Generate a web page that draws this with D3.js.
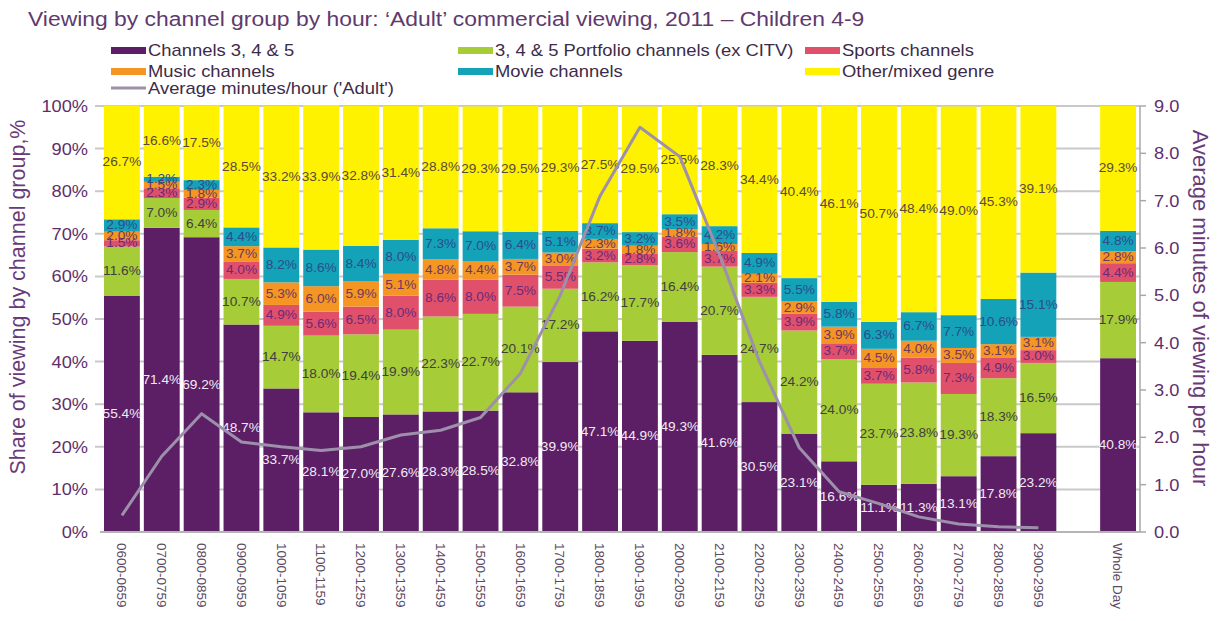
<!DOCTYPE html>
<html>
<head>
<meta charset="utf-8">
<script src="https://cdn.jsdelivr.net/npm/d3@7"></script>
<style>
  body { margin: 0; background: #fff; }
  svg { display: block; font-family: "Liberation Sans", Arial, sans-serif; }
</style>
</head>
<body>
<svg id="chart" width="1220" height="621"></svg>
<script>
// hours shown on the x axis, plus a whole-day bar after a gap
const hours = ["0600-0659","0700-0759","0800-0859","0900-0959","1000-1059","1100-1159",
  "1200-1259","1300-1359","1400-1459","1500-1559","1600-1659","1700-1759","1800-1859",
  "1900-1959","2000-2059","2100-2159","2200-2259","2300-2359","2400-2459","2500-2559",
  "2600-2659","2700-2759","2800-2859","2900-2959"];
const categories = hours.concat(["Whole Day"]);

const channels345 = [55.4,71.4,69.2,48.7,33.7,28.1,27.0,27.6,28.3,28.5,32.8,39.9,47.1,44.9,49.3,41.6,30.5,23.1,16.6,11.1,11.3,13.1,17.8,23.2,40.8];
const portfolio   = [11.6,7.0,6.4,10.7,14.7,18.0,19.4,19.9,22.3,22.7,20.1,17.2,16.2,17.7,16.4,20.7,24.7,24.2,24.0,23.7,23.8,19.3,18.3,16.5,17.9];
const sports      = [1.5,2.3,2.9,4.0,4.9,5.6,6.5,8.0,8.6,8.0,7.5,5.5,3.2,2.8,3.6,3.7,3.3,3.9,3.7,3.7,5.8,7.3,4.9,3.0,4.4];
const music       = [2.0,1.5,1.8,3.7,5.3,6.0,5.9,5.1,4.8,4.4,3.7,3.0,2.3,1.8,1.8,1.6,2.1,2.9,3.9,4.5,4.0,3.5,3.1,3.1,2.8];
const movie       = [2.9,1.2,2.3,4.4,8.2,8.6,8.4,8.0,7.3,7.0,6.4,5.1,3.7,3.2,3.5,4.2,4.9,5.5,5.8,6.3,6.7,7.7,10.6,15.1,4.8];
const other       = [26.7,16.6,17.5,28.5,33.2,33.9,32.8,31.4,28.8,29.3,29.5,29.3,27.5,29.5,25.5,28.3,34.4,40.4,46.1,50.7,48.4,49.0,45.3,39.1,29.3];

// average minutes/hour ('Adult'), hours only
const avgMinutes = [0.35,1.6,2.5,1.9,1.8,1.72,1.8,2.05,2.15,2.42,3.35,5.0,7.1,8.55,7.93,5.85,3.6,1.78,0.85,0.6,0.32,0.17,0.11,0.09];

const leftTicks = [0,10,20,30,40,50,60,70,80,90,100];
const rightTicks = [0,1,2,3,4,5,6,7,8,9];

const series = [
  {key: "ch345",  name: "Channels 3, 4 & 5", values: channels345, color: "#5c1f66", text: "#f2eaf4"},
  {key: "port",   name: "3, 4 & 5 Portfolio channels (ex CITV)", values: portfolio, color: "#a6cc38", text: "#404040"},
  {key: "sports", name: "Sports channels", values: sports, color: "#e0506b", text: "#6a2a78"},
  {key: "music",  name: "Music channels", values: music, color: "#f49524", text: "#70385e"},
  {key: "movie",  name: "Movie channels", values: movie, color: "#14a2b9", text: "#2b4d8a"},
  {key: "other",  name: "Other/mixed genre", values: other, color: "#fff200", text: "#5a4a3a"}
];
const lineColor = "#9d90ab";
const SX = 1.14; // the source text is a bit wide

const svg = d3.select("#chart");

const rows = categories.map(function(c, i) {
  const r = {cat: c};
  series.forEach(function(s) { r[s.key] = s.values[i]; });
  return r;
});

const x = d3.scaleBand()
  .domain(hours.concat(["_gap", "Whole Day"]))
  .range([102, 1138])
  .paddingInner(0.1)
  .paddingOuter(0.05);
const y = d3.scaleLinear().domain([0, 100]).range([532, 106]);
const y2 = d3.scaleLinear().domain([0, 9]).range([532, 106]);

function place(sel, px, py, sx) {
  return sel.attr("transform", "translate(" + px + "," + py + ") scale(" + (sx || SX) + ",1)");
}

// grid
svg.append("g").selectAll("line")
  .data(leftTicks.slice(1))
  .enter().append("line")
  .attr("x1", 95).attr("x2", 1140)
  .attr("y1", function(d) { return y(d); })
  .attr("y2", function(d) { return y(d); })
  .attr("stroke", "#c9c9c9")
  .attr("stroke-width", 2);

// bars
const stacked = d3.stack().keys(series.map(function(s) { return s.key; }))(rows);

const layers = svg.append("g").selectAll("g")
  .data(stacked)
  .enter().append("g")
  .attr("fill", function(d, i) { return series[i].color; });

layers.selectAll("rect")
  .data(function(d) { return d; })
  .enter().append("rect")
  .attr("x", function(d) { return x(d.data.cat); })
  .attr("width", x.bandwidth())
  .attr("y", function(d) { return y(d[1]); })
  .attr("height", function(d) { return y(d[0]) - y(d[1]); });

// x axis base line
svg.append("line")
  .attr("x1", 100).attr("x2", 1140)
  .attr("y1", y(0)).attr("y2", y(0))
  .attr("stroke", "#b5b5b5").attr("stroke-width", 2);

// segment labels
stacked.forEach(function(layer, i) {
  svg.append("g").selectAll("text")
    .data(layer)
    .enter().append("text")
    .each(function(d) {
      place(d3.select(this), x(d.data.cat) + x.bandwidth() / 2, (y(d[0]) + y(d[1])) / 2 + 4);
    })
    .attr("text-anchor", "middle")
    .attr("font-size", 12)
    .attr("fill", series[i].text)
    .text(function(d) { return (d[1] - d[0]).toFixed(1) + "%"; });
});

// average minutes line
const line = d3.line()
  .x(function(d, i) { return x(hours[i]) + x.bandwidth() / 2; })
  .y(function(d) { return y2(d); });

svg.append("path")
  .datum(avgMinutes)
  .attr("d", line)
  .attr("fill", "none")
  .attr("stroke", lineColor)
  .attr("stroke-width", 3)
  .attr("stroke-linejoin", "round");

// left axis labels
svg.append("g").selectAll("text")
  .data(leftTicks)
  .enter().append("text")
  .each(function(d) { place(d3.select(this), 88, y(d) + 6); })
  .attr("text-anchor", "end")
  .attr("font-size", 16)
  .attr("fill", "#5e2f6c")
  .text(function(d) { return d + "%"; });

// right axis
svg.append("line")
  .attr("x1", 1140).attr("x2", 1140)
  .attr("y1", y2(9)).attr("y2", y2(0))
  .attr("stroke", "#a8a8a8").attr("stroke-width", 1.5);

const rAxis = svg.append("g").selectAll("g")
  .data(rightTicks)
  .enter().append("g");
rAxis.append("line")
  .attr("x1", 1140).attr("x2", 1146)
  .attr("y1", function(d) { return y2(d); })
  .attr("y2", function(d) { return y2(d); })
  .attr("stroke", "#a8a8a8").attr("stroke-width", 1.5);
rAxis.append("text")
  .each(function(d) { place(d3.select(this), 1154, y2(d) + 6); })
  .attr("font-size", 16)
  .attr("fill", "#5e2f6c")
  .text(function(d) { return d3.format(".1f")(d); });

// x labels
svg.append("g").selectAll("text")
  .data(categories)
  .enter().append("text")
  .attr("transform", function(d) {
    return "translate(" + (x(d) + x.bandwidth() / 2) + ",543) rotate(90)";
  })
  .attr("dy", "0.35em")
  .attr("font-size", 13.5)
  .attr("fill", "#5b4a63")
  .text(function(d) { return d; });

// axis titles
svg.append("text")
  .attr("transform", "translate(25,297) rotate(-90)")
  .attr("text-anchor", "middle")
  .attr("font-size", 21.5)
  .attr("fill", "#6a3a78")
  .text("Share of viewing by channel group,%");

svg.append("text")
  .attr("transform", "translate(1193,308) rotate(90)")
  .attr("text-anchor", "middle")
  .attr("font-size", 22)
  .attr("fill", "#6a3a78")
  .text("Average minutes of viewing per hour");

// title
place(svg.append("text"), 28, 26, 1.09)
  .attr("font-size", 21)
  .attr("fill", "#5e3a6e")
  .text("Viewing by channel group by hour: \u2018Adult\u2019 commercial viewing, 2011 \u2013 Children 4-9");

// legend
const legendPos = [[111, 47], [458, 47], [805, 47], [111, 68], [458, 68], [805, 68]];
const legend = svg.append("g").selectAll("g")
  .data(series)
  .enter().append("g");
legend.append("rect")
  .attr("x", function(d, i) { return legendPos[i][0]; })
  .attr("y", function(d, i) { return legendPos[i][1]; })
  .attr("width", 35).attr("height", 7)
  .attr("fill", function(d) { return d.color; });
legend.append("text")
  .each(function(d, i) { place(d3.select(this), legendPos[i][0] + 37, legendPos[i][1] + 9, 1.15); })
  .attr("font-size", 16)
  .attr("fill", "#3d2b4a")
  .text(function(d) { return d.name; });

svg.append("line")
  .attr("x1", 111).attr("x2", 146)
  .attr("y1", 88).attr("y2", 88)
  .attr("stroke", lineColor).attr("stroke-width", 3);
place(svg.append("text"), 148, 94, 1.15)
  .attr("font-size", 16)
  .attr("fill", "#3d2b4a")
  .text("Average minutes/hour ('Adult')");
</script>
</body>
</html>
